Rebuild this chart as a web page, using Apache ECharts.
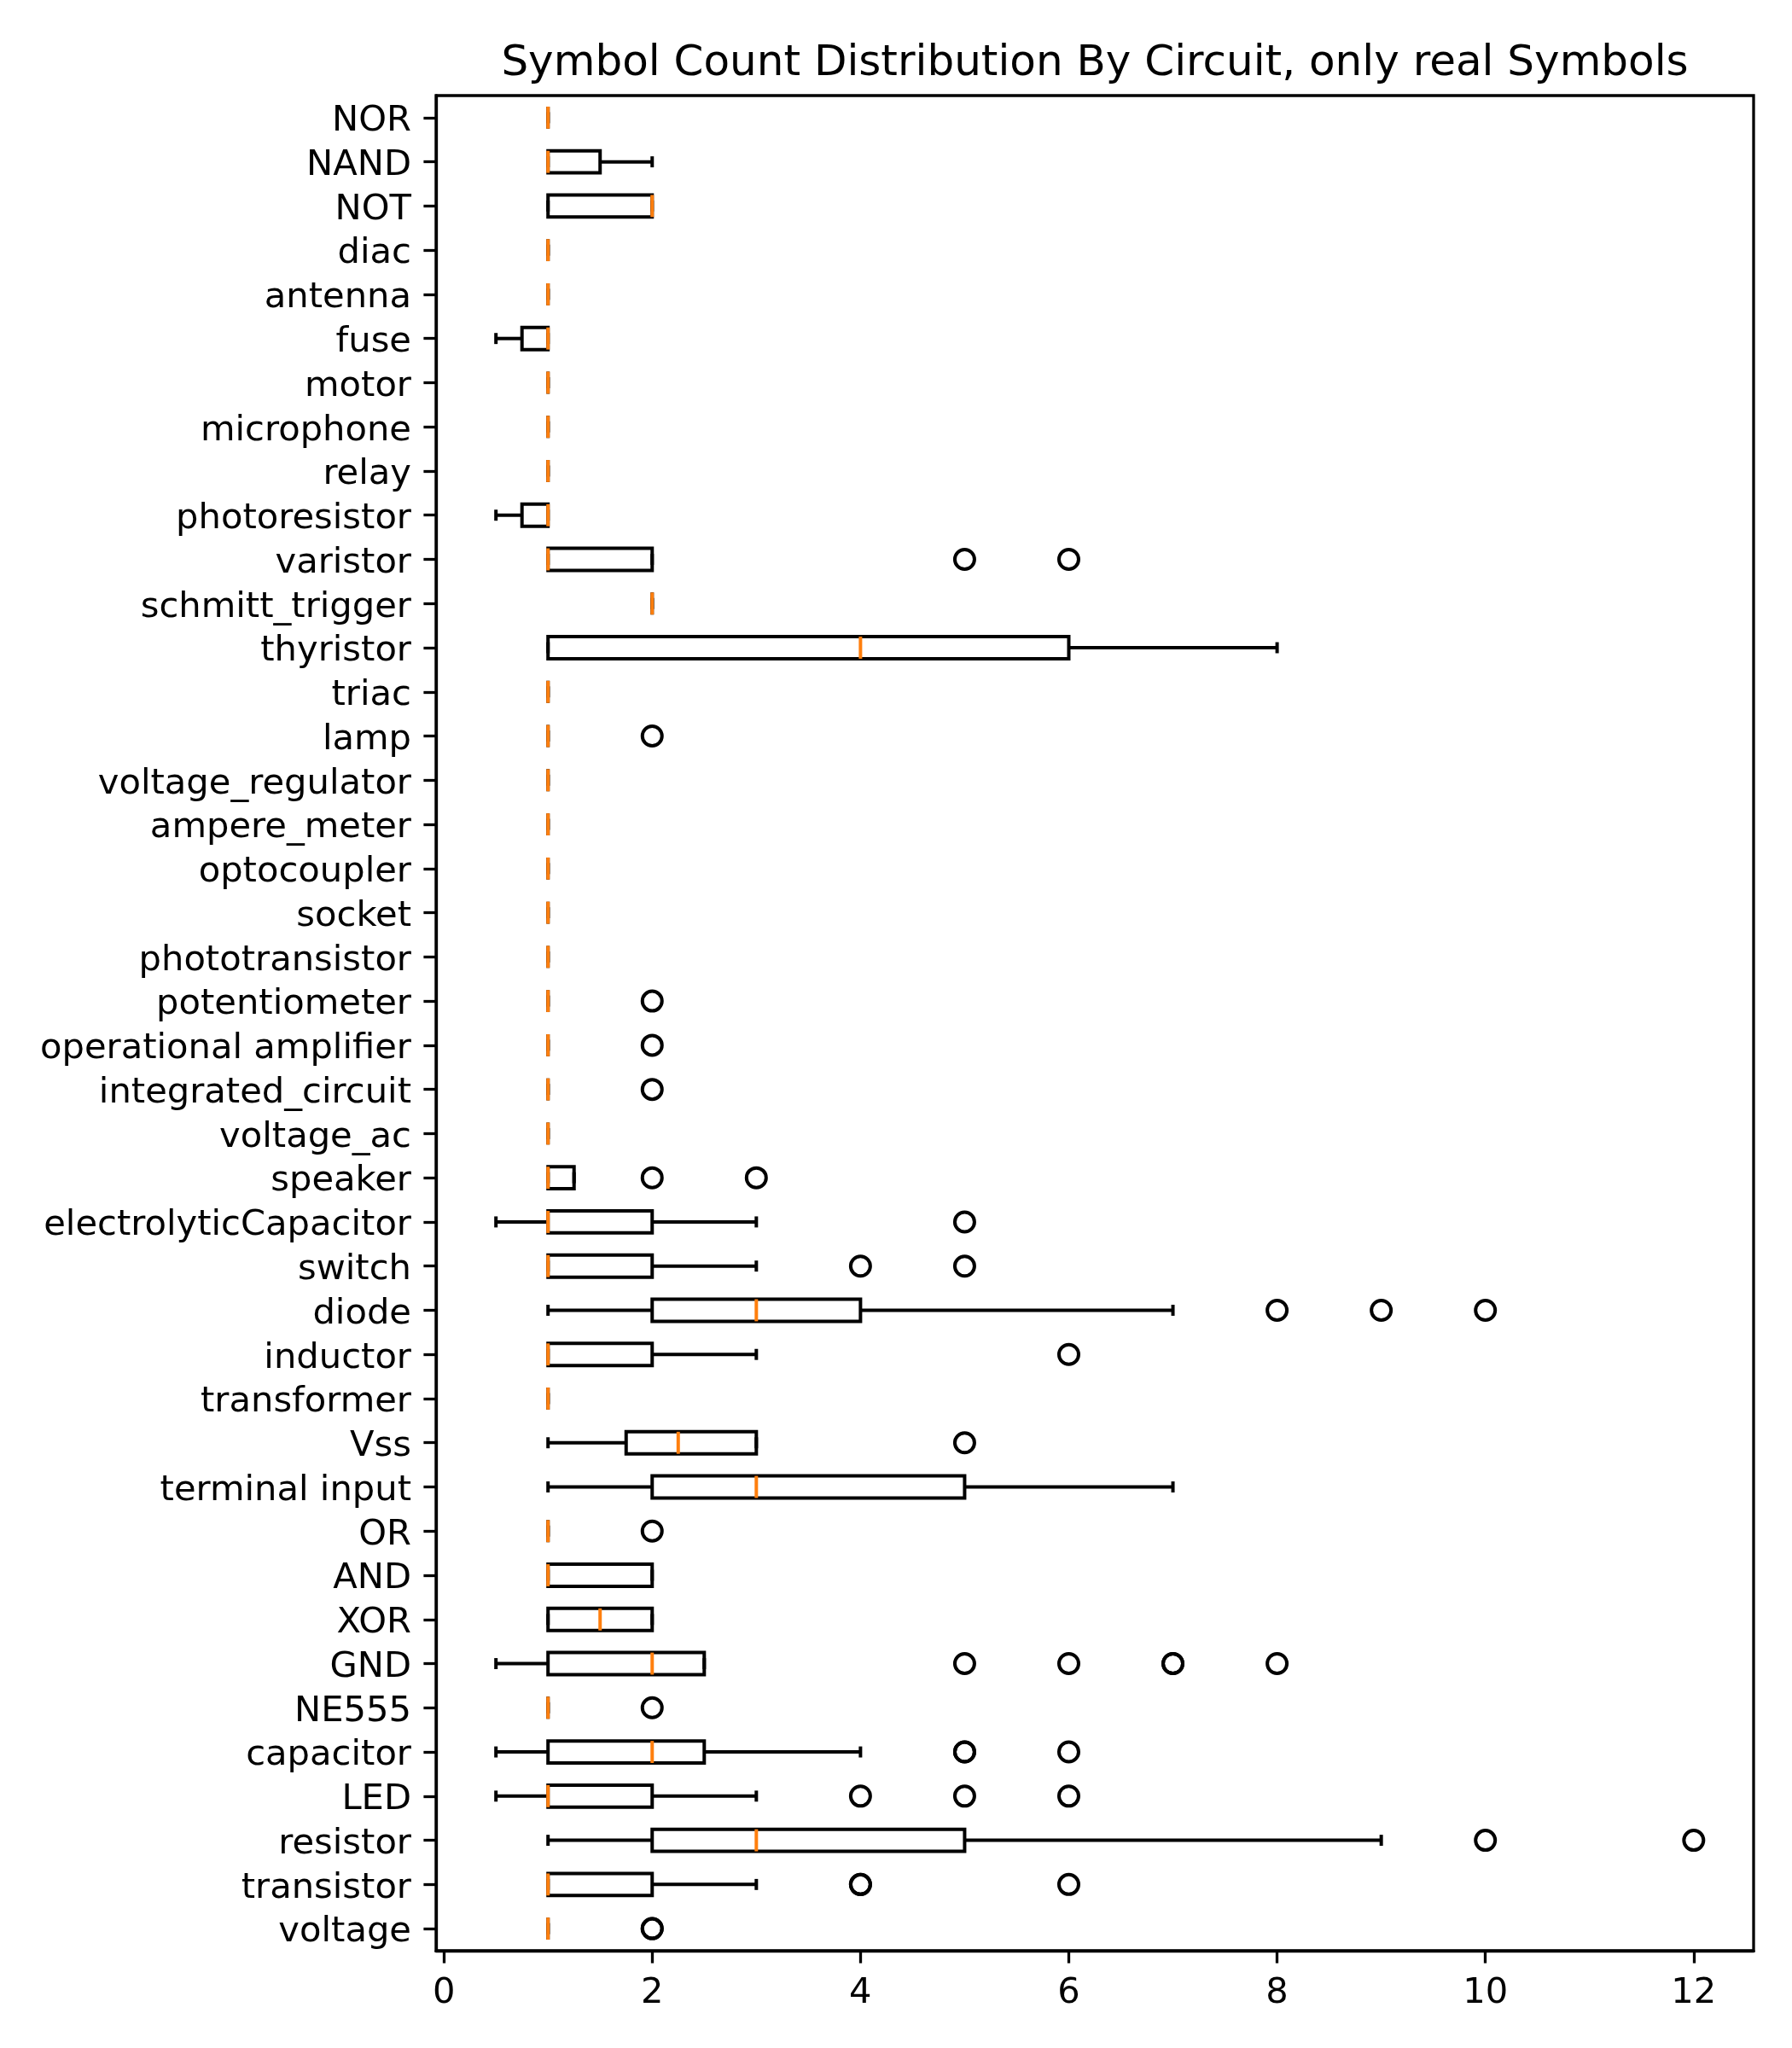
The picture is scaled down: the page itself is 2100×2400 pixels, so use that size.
<!DOCTYPE html>
<html>
<head>
<meta charset="utf-8">
<script src="https://cdn.jsdelivr.net/npm/echarts@6/dist/echarts.min.js"></script>
<style>html,body{margin:0;padding:0;background:#fff}#c{width:2100px;height:2400px}</style>
</head>
<body>
<div id="c"></div>
<script>
const categories = ['voltage','transistor','resistor','LED','capacitor','NE555','GND','XOR','AND','OR','terminal input','Vss','transformer','inductor','diode','switch','electrolyticCapacitor','speaker','voltage_ac','integrated_circuit','operational amplifier','potentiometer','phototransistor','socket','optocoupler','ampere_meter','voltage_regulator','lamp','triac','thyristor','schmitt_trigger','varistor','photoresistor','relay','microphone','motor','fuse','antenna','diac','NOT','NAND','NOR'];
const whiskerLow = [1,1,1,0.5,0.5,1,0.5,1,1,1,1,1,1,1,1,1,0.5,1,1,1,1,1,1,1,1,1,1,1,1,1,2,1,0.5,1,1,1,0.5,1,1,1,1,1];
const q1 =         [1,1,2,1,1,1,1,1,1,1,2,1.75,1,1,2,1,1,1,1,1,1,1,1,1,1,1,1,1,1,1,2,1,0.75,1,1,1,0.75,1,1,1,1,1];
const median =     [1,1,3,1,2,1,2,1.5,1,1,3,2.25,1,1,3,1,1,1,1,1,1,1,1,1,1,1,1,1,1,4,2,1,1,1,1,1,1,1,1,2,1,1];
const q3 =         [1,2,5,2,2.5,1,2.5,2,2,1,5,3,1,2,4,2,2,1.25,1,1,1,1,1,1,1,1,1,1,1,6,2,2,1,1,1,1,1,1,1,2,1.5,1];
const whiskerHigh =[1,3,9,3,4,1,2.5,2,2,1,7,3,1,3,7,3,3,1.25,1,1,1,1,1,1,1,1,1,1,1,8,2,2,1,1,1,1,1,1,1,2,2,1];
const outlierCategory = ['voltage','voltage','transistor','transistor','transistor','resistor','resistor','LED','LED','LED','capacitor','capacitor','capacitor','NE555','GND','GND','GND','GND','GND','OR','Vss','inductor','diode','diode','diode','switch','switch','electrolyticCapacitor','speaker','speaker','integrated_circuit','operational amplifier','potentiometer','lamp','varistor','varistor'];
const outlierValue =    [2,2,4,4,6,10,12,4,5,6,5,5,6,2,5,6,7,7,8,2,5,6,8,9,10,4,5,5,2,3,2,2,2,2,5,6];
const xTicks = [0,2,4,6,8,10,12];
const titleText = 'Symbol Count Distribution By Circuit, only real Symbols';

const boxData = categories.map((c,i)=>[i, whiskerLow[i], q1[i], median[i], q3[i], whiskerHigh[i]]);
const outData = outlierCategory.map((c,i)=>[outlierValue[i], categories.indexOf(c)]);

const FONT = 'DejaVu Sans';
const LW = 4;
const chart = echarts.init(document.getElementById('c'), null, {renderer:'canvas'});
const gl = 511, gr = 45, gt = 112, gb = 114;
chart.setOption({
  animation:false,
  backgroundColor:'#fff',
  graphic:[{type:'text', x:(gl + (2100-gr))/2, y:100,
    style:{text:titleText, font:'50px "DejaVu Sans"', fill:'#000', textAlign:'center', textVerticalAlign:'bottom'}}],
  grid:{left:gl, right:gr, top:gt, bottom:gb, show:true, borderColor:'#000', borderWidth:3.3, containLabel:false, outerBoundsMode:'none'},
  xAxis:{type:'value', min:-0.075, max:12.575,
    axisLine:{show:true, onZero:false, lineStyle:{color:'#000', width:3.3}},
    axisTick:{show:true, length:14.6, lineStyle:{color:'#000', width:3.3}, customValues:xTicks},
    axisLabel:{color:'#000', fontFamily:FONT, fontSize:41.67, margin:29, customValues:xTicks},
    splitLine:{show:false}},
  yAxis:{type:'category', data:categories,
    axisLine:{show:true, onZero:false, lineStyle:{color:'#000', width:3.3}},
    axisTick:{show:true, alignWithLabel:true, length:14.6, lineStyle:{color:'#000', width:3.3}},
    axisLabel:{color:'#000', fontFamily:FONT, fontSize:41.67, margin:29, interval:0, verticalAlign:'top', lineHeight:9},
    splitLine:{show:false}},
  series:[
    {type:'custom', data:boxData, encode:{x:[1,2,3,4,5], y:0}, z:2,
     renderItem:function(params, api){
       const cat = api.value(0);
       const lo = api.value(1), a = api.value(2), m = api.value(3), b = api.value(4), hi = api.value(5);
       const band = api.size([0,1])[1];
       const bh = band*0.5, cw = band*0.25;
       const y = api.coord([0, cat])[1];
       const X = v => api.coord([v, cat])[0];
       const st = {stroke:'#000', lineWidth:LW, fill:null};
       const children = [
         {type:'rect', shape:{x:X(a), y:y-bh/2, width:X(b)-X(a), height:bh}, style:{stroke:'#000', lineWidth:LW, fill:'none'}},
         {type:'line', shape:{x1:X(lo), y1:y, x2:X(a), y2:y}, style:st},
         {type:'line', shape:{x1:X(b), y1:y, x2:X(hi), y2:y}, style:st},
         {type:'line', shape:{x1:X(lo), y1:y-cw/2, x2:X(lo), y2:y+cw/2}, style:st},
         {type:'line', shape:{x1:X(hi), y1:y-cw/2, x2:X(hi), y2:y+cw/2}, style:st},
         {type:'line', shape:{x1:X(m), y1:y-bh/2, x2:X(m), y2:y+bh/2}, style:{stroke:'#ff7f0e', lineWidth:LW}}
       ];
       return {type:'group', children};
     }},
    {type:'scatter', data:outData, symbol:'circle', symbolSize:23, z:3,
     itemStyle:{color:'rgba(0,0,0,0)', borderColor:'#000', borderWidth:4, opacity:1}}
  ]
});
</script>
</body>
</html>
